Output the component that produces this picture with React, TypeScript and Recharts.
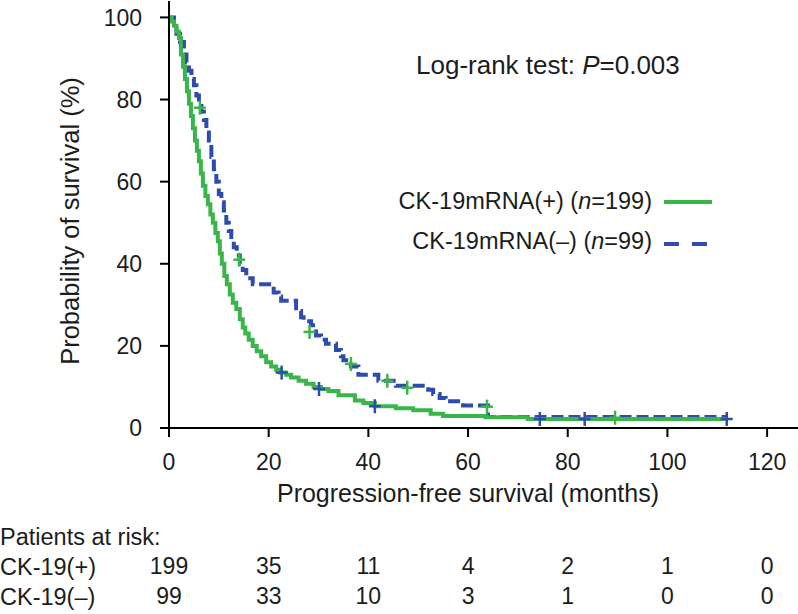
import { ComposedChart, Line, Scatter, XAxis, YAxis } from 'recharts';

const GREEN = '#3ab54a';
const BLUE = '#2e4cae';
const FONT = '"Liberation Sans", Arial, Helvetica, sans-serif';
const INK = '#1c1c1c';

// CK-19mRNA(+) curve (months, % surviving)
const PLUS_T = [0, 0.5, 1, 1.5, 2, 2.4, 2.8, 3.2, 3.6, 4, 4.4, 4.8, 5.2, 5.6, 6, 6.4, 6.8, 7.3, 7.8, 8.3, 8.8, 9.3, 9.8, 10.2, 10.6, 11.1, 11.6, 12.2, 12.8, 13.5, 14.2, 14.8, 15.3, 16, 16.8, 17.6, 18.5, 19.5, 20.5, 21.5, 22.3, 23.5, 24.5, 26, 27.5, 29, 30.5, 32, 34, 37.3, 39, 41.3, 45.5, 49, 52.5, 55, 63.5, 72, 112];
const PLUS_S = [100, 99, 98, 96.5, 95, 91, 88, 85, 82, 79, 76, 73, 70, 67.5, 65, 62, 59, 56.5, 54.5, 52, 50, 47.5, 45.5, 42.5, 40, 37, 35, 32.5, 30.5, 29, 26.5, 24.5, 23, 21.5, 20, 18.7, 17.5, 16, 15, 14.2, 13.5, 13, 12.3, 11.5, 10.8, 10, 9.5, 9, 8, 6.7, 6.1, 5.3, 4.8, 4.3, 3.5, 2.9, 2.6, 2.2, 2.2];

// CK-19mRNA(-) curve
const MINUS_T = [0, 1, 1.5, 2.2, 3, 3.5, 4, 4.5, 5, 5.5, 6, 6.5, 7, 7.5, 8, 8.5, 9, 9.5, 10, 10.5, 11, 11.5, 12, 12.5, 13, 13.6, 14.2, 14.8, 15.5, 16.8, 21, 22, 22.5, 25.5, 26.5, 27, 28.5, 29.5, 30.5, 31.5, 33.5, 34.5, 35, 36.5, 38, 42, 45.5, 52, 53, 54.3, 55.5, 59, 64, 112];
const MINUS_S = [100, 98, 96, 94, 91, 89, 87, 85, 83.5, 81, 79, 77, 75, 72, 69, 66, 63, 60, 57, 55, 53, 50, 48, 46, 44, 42, 40, 38.5, 36.5, 35, 33, 32, 31, 28.5, 27, 26, 25, 22.5, 21.5, 20.5, 19, 17.5, 16.5, 15, 13, 11.5, 10.3, 9.3, 8.3, 7.3, 6.5, 5.5, 2.7, 2.7];

// censor marks (as coloured in the source figure)
const MINUS_CENS_T = [6.2, 14.1, 28.2, 36.5, 43.8, 47.8, 63.8, 89.5];
const MINUS_CENS_S = [78, 41, 23.4, 15.6, 11.5, 9.8, 5.2, 2.5];
const PLUS_CENS_T = [22.6, 30.1, 41.3, 74.4, 83.4, 111.9];
const PLUS_CENS_S = [13.5, 9.5, 5.3, 2.2, 2.2, 2.2];

const X_TICKS = [0, 20, 40, 60, 80, 100, 120];
const Y_TICKS = [0, 20, 40, 60, 80, 100];
const RISK_PLUS = [199, 35, 11, 4, 2, 1, 0];
const RISK_MINUS = [99, 33, 10, 3, 1, 0, 0];

const toRows = (ts: number[], ss: number[]) => ts.map((t, i) => ({ t, s: ss[i] }));
const plusData = toRows(PLUS_T, PLUS_S);
const minusData = toRows(MINUS_T, MINUS_S);
const minusCens = toRows(MINUS_CENS_T, MINUS_CENS_S);
const plusCens = toRows(PLUS_CENS_T, PLUS_CENS_S);

const cross = (color: string) => (props: any) => {
  const { cx, cy } = props;
  if (cx == null || cy == null) return <g />;
  return (
    <g stroke={color} strokeWidth={2.5}>
      <line x1={cx - 6} y1={cy} x2={cx + 6} y2={cy} />
      <line x1={cx} y1={cy - 7} x2={cx} y2={cy + 7} />
    </g>
  );
};

function XTick(props: any) {
  const { x, y, payload, index } = props;
  return (
    <g fontFamily={FONT} fontSize={23} fill={INK} textAnchor="middle">
      <text x={x} y={y + 33}>{payload.value}</text>
      <text x={x} y={y + 137}>{RISK_PLUS[index]}</text>
      <text x={x} y={y + 167}>{RISK_MINUS[index]}</text>
    </g>
  );
}

export default function App() {
  return (
    <div style={{ position: 'absolute', left: 0, top: 0, width: 798, height: 614, background: '#fff' }}>
      <ComposedChart width={798} height={614} margin={{ top: 1, right: 0, left: 0, bottom: 0 }}>
        <XAxis
          type="number"
          dataKey="t"
          domain={[0, 126.2]}
          ticks={X_TICKS}
          interval={0}
          height={186}
          tickSize={9}
          tickMargin={0}
          axisLine={{ stroke: '#000', strokeWidth: 2 }}
          tickLine={{ stroke: '#000', strokeWidth: 2 }}
          tick={<XTick />}
        />
        <YAxis
          type="number"
          dataKey="s"
          domain={[0, 104]}
          ticks={Y_TICKS}
          interval={0}
          width={169}
          tickSize={9}
          tickMargin={18}
          axisLine={{ stroke: '#000', strokeWidth: 2 }}
          tickLine={{ stroke: '#000', strokeWidth: 2 }}
          tick={{ fill: INK, fontSize: 23, fontFamily: FONT }}
        />
        <Line data={minusData} dataKey="s" type="stepAfter" stroke={BLUE} strokeWidth={4} strokeDasharray="12 5" dot={false} isAnimationActive={false} />
        <Line data={plusData} dataKey="s" type="stepAfter" stroke={GREEN} strokeWidth={4} dot={false} isAnimationActive={false} />
        <Scatter data={minusCens} shape={cross(GREEN)} isAnimationActive={false} />
        <Scatter data={plusCens} shape={cross(BLUE)} isAnimationActive={false} />
      </ComposedChart>
      <svg width={798} height={614} style={{ position: 'absolute', left: 0, top: 0, pointerEvents: 'none' }} fontFamily={FONT} fill={INK}>
        <text x={416} y={74} fontSize={26}>
          Log-rank test: <tspan fontStyle="italic">P</tspan>=0.003
        </text>
        <text x={652} y={209} fontSize={23.5} textAnchor="end">
          CK-19mRNA(+) (<tspan fontStyle="italic">n</tspan>=199)
        </text>
        <line x1={664} y1={202} x2={712} y2={202} stroke={GREEN} strokeWidth={4} />
        <text x={652} y={249} fontSize={23.5} textAnchor="end">
          CK-19mRNA(–) (<tspan fontStyle="italic">n</tspan>=99)
        </text>
        <line x1={664} y1={244} x2={712} y2={244} stroke={BLUE} strokeWidth={4} strokeDasharray="15 13" />
        <text x={468} y={502} fontSize={25} textAnchor="middle">Progression-free survival (months)</text>
        <text transform="translate(79,221) rotate(-90)" fontSize={25.5} textAnchor="middle">Probability of survival (%)</text>
        <text x={0} y={545} fontSize={23.5}>Patients at risk:</text>
        <text x={0} y={575} fontSize={23.5}>CK-19(+)</text>
        <text x={0} y={605} fontSize={23.5}>CK-19(–)</text>
      </svg>
    </div>
  );
}
